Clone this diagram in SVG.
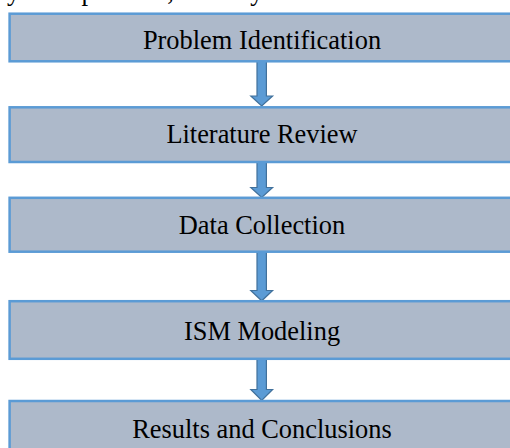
<svg xmlns="http://www.w3.org/2000/svg" width="510" height="448" viewBox="0 0 510 448">
<style>
.box{fill:#adb9ca;stroke:#5b9bd5;stroke-width:2.5}
.lbl{font-family:"Liberation Serif","Times New Roman",serif;font-size:26.4px;fill:#000;text-anchor:middle}
.body{font-family:"Liberation Serif","Times New Roman",serif;font-size:26.4px;fill:#000}
.arrow{fill:#5b9bd5;stroke:#41719c;stroke-width:1.2;stroke-linejoin:miter}
</style>
<rect width="510" height="448" fill="#ffffff"/>
<text class="body" x="7" y="-0.5" textLength="416" lengthAdjust="spacing">ywood products, a survey was conducted.</text>
<g id="connectors">
<polygon class="arrow" points="257,61.3 266.4,61.3 266.4,96 272.6,96 261.7,106 250.8,96 257,96"/>
<polygon class="arrow" points="257,162 266.4,162 266.4,187.5 272.6,187.5 261.7,197.5 250.8,187.5 257,187.5"/>
<polygon class="arrow" points="257,251.7 266.4,251.7 266.4,290.5 272.6,290.5 261.7,300.8 250.8,290.5 257,290.5"/>
<polygon class="arrow" points="257,358.8 266.4,358.8 266.4,389.5 272.6,389.5 261.7,400.5 250.8,389.5 257,389.5"/>
</g>
<g id="node-problem">
<rect class="box" x="9.6" y="13.7" width="510" height="47.6"/>
<text class="lbl" x="262" y="49.3">Problem Identification</text>
</g>
<g id="node-literature">
<rect class="box" x="9.6" y="107.3" width="510" height="54.7"/>
<text class="lbl" x="262" y="143.3">Literature Review</text>
</g>
<g id="node-data">
<rect class="box" x="9.6" y="197.8" width="510" height="53.9"/>
<text class="lbl" x="262" y="234">Data Collection</text>
</g>
<g id="node-ism">
<rect class="box" x="9.6" y="301.2" width="510" height="57.6"/>
<text class="lbl" x="262" y="340">ISM Modeling</text>
</g>
<g id="node-results">
<rect class="box" x="9.6" y="401" width="510" height="60"/>
<text class="lbl" x="262" y="438">Results and Conclusions</text>
</g>
</svg>
